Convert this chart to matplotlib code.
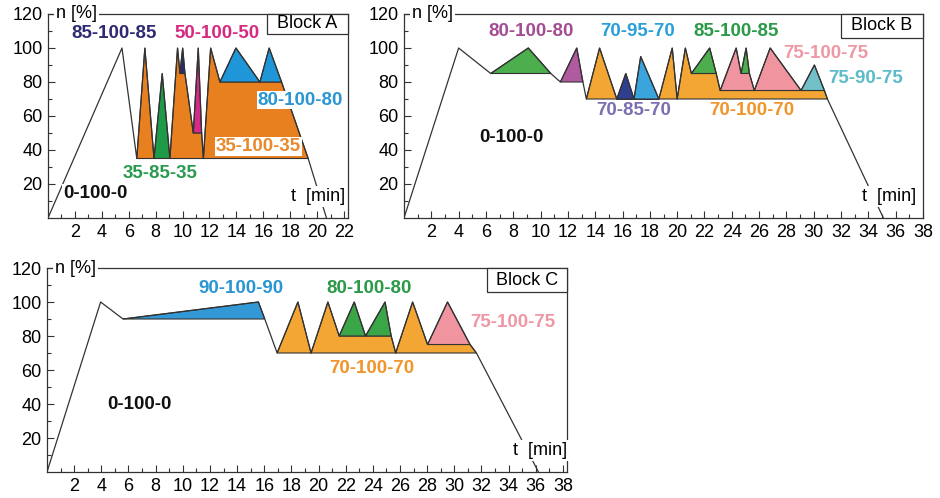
import matplotlib.pyplot as plt
from matplotlib.patches import Rectangle
import numpy as np

plt.rcParams['font.family'] = ['Liberation Sans', 'DejaVu Sans']

# ---- Block A: load profile (t [min], n [%]) ----
a_env_t = [0, 5.5, 6.6, 7.2, 7.88, 8.49, 9.06, 9.63, 9.81, 10.01, 10.18, 10.8, 11.17,
           11.42, 11.55, 12.09, 12.78, 13.97, 15.75, 16.44, 17.36, 19.34, 20.7]
a_env_n = [0, 100, 35, 100, 35, 85, 35, 100, 85, 100, 85, 50, 100,
           50, 35, 100, 80, 100, 80, 100, 80, 35, 0]
a_or1_t, a_or1_n = [6.6, 7.2, 7.88], [35, 100, 35]
a_gr_t, a_gr_n = [7.88, 8.49, 9.06], [35, 85, 35]
a_or2_t = [9.06, 9.63, 9.81, 10.18, 10.8, 11.42, 11.55]
a_or2_n = [35, 100, 85, 85, 50, 50, 35]
a_nv_t, a_nv_n = [9.81, 10.01, 10.18], [85, 100, 85]
a_mg_t, a_mg_n = [10.8, 11.17, 11.42], [50, 100, 50]
a_or3_t, a_or3_n = [11.55, 12.09, 12.78, 17.36, 19.34], [35, 100, 80, 80, 35]
a_bl_t, a_bl_n = [12.78, 13.97, 15.75, 16.44, 17.36], [80, 100, 80, 100, 80]

# ---- Block B ----
b_env_t = [0, 4.0, 6.35, 9.1, 10.75, 11.45, 12.65, 13.1, 13.35, 14.32, 15.58, 16.24,
           16.84, 17.33, 18.66, 19.64, 20.0, 20.6, 21.04, 22.38, 22.86, 23.15, 24.32,
           24.68, 25.05, 25.29, 25.65, 26.81, 29.07, 30.05, 30.78, 31.0, 35.1]
b_env_n = [0, 100, 85, 100, 85, 80, 100, 80, 70, 100, 70, 85,
           70, 95, 70, 100, 70, 100, 85, 100, 85, 75, 100,
           85, 100, 85, 75, 100, 75, 90, 75, 70, 0]
b_gr1_t, b_gr1_n = [6.35, 9.1, 10.75], [85, 100, 85]
b_pu_t, b_pu_n = [11.45, 12.65, 13.1], [80, 100, 80]
b_or_t = [13.35, 14.32, 15.58, 18.66, 19.64, 20.0, 20.6, 21.04, 22.86, 23.15, 30.78, 31.0]
b_or_n = [70, 100, 70, 70, 100, 70, 100, 85, 85, 75, 75, 70]
b_nv_t, b_nv_n = [15.58, 16.24, 16.84], [70, 85, 70]
b_lb_t, b_lb_n = [16.84, 17.33, 18.66], [70, 95, 70]
b_gr2_t, b_gr2_n = [21.04, 22.38, 22.86], [85, 100, 85]
b_gr3_t, b_gr3_n = [24.68, 25.05, 25.29], [85, 100, 85]
b_pk1_t, b_pk1_n = [23.15, 24.32, 24.68, 25.29, 25.65], [75, 100, 85, 85, 75]
b_pk2_t, b_pk2_n = [25.65, 26.81, 29.07], [75, 100, 75]
b_tl_t, b_tl_n = [29.07, 30.05, 30.78], [75, 90, 75]

# ---- Block C ----
c_env_t = [0, 3.95, 5.6, 15.57, 16.04, 16.95, 18.48, 19.45, 20.69, 21.52, 22.63, 23.46,
           24.9, 25.35, 25.68, 26.93, 28.03, 29.5, 31.16, 31.63, 36.2]
c_env_n = [0, 100, 90, 100, 90, 70, 100, 70, 100, 80, 100, 80,
           100, 80, 70, 100, 75, 100, 75, 70, 0]
c_bl_t, c_bl_n = [5.6, 15.57, 16.04], [90, 100, 90]
c_or_t = [16.95, 18.48, 19.45, 20.69, 21.52, 25.35, 25.68, 26.93, 28.03, 31.16, 31.63]
c_or_n = [70, 100, 70, 100, 80, 80, 70, 100, 75, 75, 70]
c_gr_t, c_gr_n = [21.52, 22.63, 23.46, 24.9, 25.35], [80, 100, 80, 100, 80]
c_pk_t, c_pk_n = [28.03, 29.5, 31.16], [75, 100, 75]

# labels: (text, t, n, colour)
a_labels = [("85-100-85", 4.9, 108.5, '#2e2a72'), ("50-100-50", 12.6, 108.5, '#d6297f'),
            ("80-100-80", 18.74, 69.4, '#2a96d4'), ("35-100-35", 15.64, 42, '#e8892c'),
            ("35-85-35", 8.33, 26, '#2a9a50'), ("0-100-0", 3.5, 14.5, '#111111')]
b_labels = [("80-100-80", 9.3, 109.7, '#a44d92'), ("70-95-70", 17.1, 109.7, '#2aa0d8'),
            ("85-100-85", 24.3, 109.7, '#2a9a48'), ("75-100-75", 30.9, 96.5, '#ef98a5'),
            ("75-90-75", 33.8, 82, '#5bbcc8'), ("70-85-70", 16.8, 63, '#7a70b0'),
            ("70-100-70", 25.5, 63, '#f0952a'), ("0-100-0", 7.9, 47.6, '#111111')]
c_labels = [("90-100-90", 14.3, 107.8, '#2a96d4'), ("80-100-80", 23.7, 107.8, '#2a9a48'),
            ("75-100-75", 34.3, 88, '#ef98a5'), ("70-100-70", 23.9, 60.8, '#f0952a'),
            ("0-100-0", 6.8, 40, '#111111')]

LINE = '#333333'
FS = 13
FS_BOLD = 13.5


def setup(ax, xmax, name, t_pos, box_w, box_h):
    ax.set_xlim(0, xmax)
    ax.set_ylim(0, 120)
    ax.set_xticks(np.arange(2, xmax + 0.01, 2))
    ax.set_xticks(np.arange(1, xmax, 2), minor=True)
    ax.set_yticks(np.arange(20, 121, 20))
    ax.set_yticks(np.arange(10, 120, 20), minor=True)
    ax.tick_params(which='both', direction='in', width=0.8, color=LINE,
                   labelsize=FS, pad=4)
    ax.tick_params(which='major', length=5)
    ax.tick_params(which='minor', length=3)
    for s in ax.spines.values():
        s.set_linewidth(0.9)
        s.set_color(LINE)
    ax.text(0.6, 120, "n [%]", ha='left', va='center', fontsize=FS, zorder=6,
            clip_on=False, bbox=dict(facecolor='white', edgecolor='none', pad=1.5))
    ax.text(t_pos[0], t_pos[1], "t  [min]", ha='center', va='center', fontsize=FS,
            zorder=6, bbox=dict(facecolor='white', edgecolor='none', pad=1.5))
    ax.add_patch(Rectangle((1 - box_w, 1 - box_h), box_w, box_h, transform=ax.transAxes,
                           facecolor='white', edgecolor=LINE, lw=0.9, zorder=7,
                           clip_on=False))
    ax.text(1 - box_w / 2, 1 - box_h / 2, name, transform=ax.transAxes, ha='center',
            va='center', fontsize=FS, zorder=8)


def draw(ax, fills, env_t, env_n, labels):
    for t, n, c in fills:
        ax.fill(t, n, facecolor=c, edgecolor=LINE, lw=0.8, zorder=2)
    ax.plot(env_t, env_n, color=LINE, lw=0.9, zorder=3)
    for txt, x, y, c in labels:
        ax.text(x, y, txt, color=c, fontsize=FS_BOLD, fontweight='bold', ha='center',
                va='center', zorder=5,
                bbox=dict(facecolor='white', edgecolor='none', pad=0.5))


fig = plt.figure(figsize=(9.4, 4.98), dpi=100)
axA = fig.add_axes([48 / 940, 1 - 218 / 498, 300 / 940, 204 / 498])
axB = fig.add_axes([404 / 940, 1 - 218 / 498, 519 / 940, 204 / 498])
axC = fig.add_axes([47 / 940, 1 - 472 / 498, 520 / 940, 204 / 498])

A_OR, BC_OR = '#e9801f', '#f3a633'
draw(axA, [(a_or1_t, a_or1_n, A_OR), (a_gr_t, a_gr_n, '#1f9a48'),
           (a_or2_t, a_or2_n, A_OR), (a_nv_t, a_nv_n, '#2b2a7a'),
           (a_mg_t, a_mg_n, '#d62a87'), (a_or3_t, a_or3_n, A_OR),
           (a_bl_t, a_bl_n, '#1f96d8')], a_env_t, a_env_n, a_labels)
draw(axB, [(b_gr1_t, b_gr1_n, '#4cae4c'), (b_pu_t, b_pu_n, '#b05aa0'),
           (b_or_t, b_or_n, BC_OR), (b_nv_t, b_nv_n, '#2e3f8f'),
           (b_lb_t, b_lb_n, '#3aa4dc'), (b_gr2_t, b_gr2_n, '#4cae4c'),
           (b_gr3_t, b_gr3_n, '#4cae4c'), (b_pk1_t, b_pk1_n, '#f0959f'),
           (b_pk2_t, b_pk2_n, '#f0959f'), (b_tl_t, b_tl_n, '#72c1c8')],
     b_env_t, b_env_n, b_labels)
draw(axC, [(c_bl_t, c_bl_n, '#3399d6'), (c_or_t, c_or_n, BC_OR),
           (c_gr_t, c_gr_n, '#3aa648'), (c_pk_t, c_pk_n, '#f0959f')],
     c_env_t, c_env_n, c_labels)

setup(axA, 22.3, "Block A", (20.05, 12.5), 81 / 300, 20 / 204)
setup(axB, 38.0, "Block B", (35.55, 12.7), 82 / 519, 24 / 204)
setup(axC, 38.3, "Block C", (36.3, 12.7), 80 / 520, 24 / 204)

fig.savefig("out.png", dpi=100)
